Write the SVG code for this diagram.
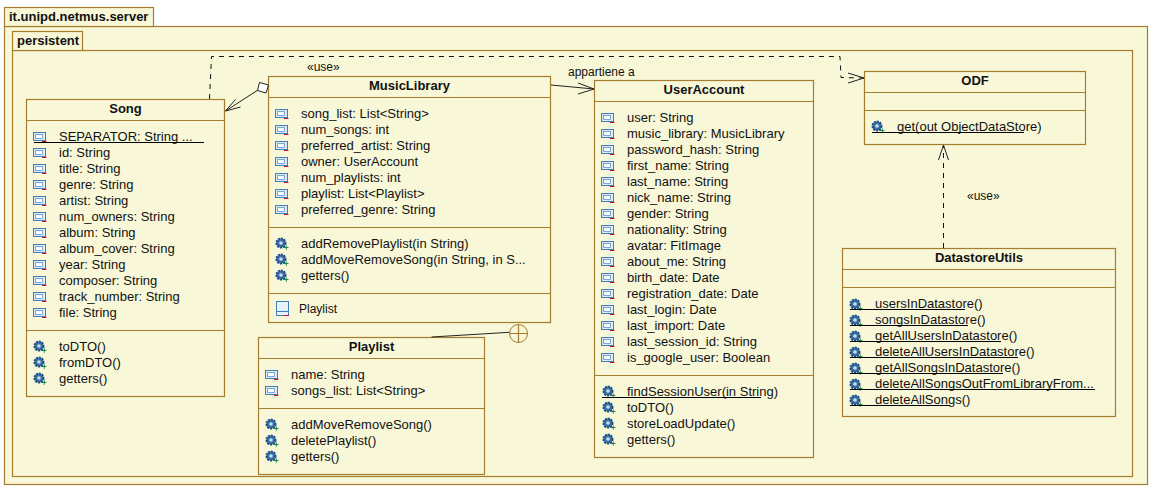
<svg xmlns="http://www.w3.org/2000/svg" width="1170" height="492" viewBox="0 0 1170 492">
<style>
.box{fill:#f8f8d8;stroke:#a67c2e;stroke-width:1.2}
.div{stroke:#a67c2e;stroke-width:1.2;fill:none}
text{font-family:"Liberation Sans",Arial,sans-serif;font-size:13px;fill:#111}
.t{font-weight:bold;text-anchor:middle}
.p{font-weight:bold}
.u{stroke:#000;stroke-width:1;fill:none}
.c{stroke:#222;stroke-width:1;fill:none}
.d{stroke:#111;stroke-width:1;fill:none;stroke-dasharray:5 5}
.s{font-size:12px}
</style>
<defs>
<g id="attr">
<rect x="0.5" y="0.5" width="12" height="8" fill="#dfeaf6" stroke="#3f7fb5" stroke-width="1"/>
<rect x="2.5" y="2.5" width="7" height="4" fill="#fff" stroke="#5d97c6" stroke-width="0.8"/>
<path d="M9 9.500H13.500" stroke="#c8102e" fill="none"/>
</g>
<g id="op">
<circle cx="6" cy="6" r="4.600" fill="#3a6ea5" stroke="#1d4a80" stroke-width="1.800" stroke-dasharray="2 1"/>
<circle cx="6" cy="6" r="1.800" fill="#c9dcf0"/>
<path d="M9 10.500H13.500M11.250 8.250V12.750" stroke="#1a8a4a" fill="none"/>
</g>
<g id="cls">
<rect x="0.5" y="0.5" width="12" height="14" fill="#e8f2fb" stroke="#3f7fb5"/>
<path d="M0.5 10.500H12.500" stroke="#3f7fb5" fill="none"/>
<path d="M8 14.500H13" stroke="#c8102e" fill="none"/>
</g>
</defs>
<rect width="1170" height="492" fill="#fff"/>
<g id="pkg-server">
<rect class="box" x="4.500" y="26.500" width="1143" height="458"/>
<rect class="box" x="4.500" y="7.500" width="149" height="19"/>
<text class="p" x="9" y="21">it.unipd.netmus.server</text>
</g>
<g id="pkg-persistent">
<rect class="box" x="12.500" y="50.500" width="1120" height="426"/>
<rect class="box" x="12.500" y="31.500" width="70" height="19"/>
<text class="p" x="17" y="45">persistent</text>
</g>
<g id="Song">
<rect class="box" x="26.500" y="99.500" width="198" height="297"/>
<path class="div" d="M26.500 120.500H224.500M26.500 330.500H224.500"/>
<text class="t" x="125.500" y="113">Song</text>
<use href="#attr" x="33" y="132"/><text x="59" y="141">SEPARATOR: String ...</text><path class="u" d="M34 142.500H204"/>
<use href="#attr" x="33" y="148"/><text x="59" y="157">id: String</text>
<use href="#attr" x="33" y="164"/><text x="59" y="173">title: String</text>
<use href="#attr" x="33" y="180"/><text x="59" y="189">genre: String</text>
<use href="#attr" x="33" y="196"/><text x="59" y="205">artist: String</text>
<use href="#attr" x="33" y="212"/><text x="59" y="221">num_owners: String</text>
<use href="#attr" x="33" y="228"/><text x="59" y="237">album: String</text>
<use href="#attr" x="33" y="244"/><text x="59" y="253">album_cover: String</text>
<use href="#attr" x="33" y="260"/><text x="59" y="269">year: String</text>
<use href="#attr" x="33" y="276"/><text x="59" y="285">composer: String</text>
<use href="#attr" x="33" y="292"/><text x="59" y="301">track_number: String</text>
<use href="#attr" x="33" y="308"/><text x="59" y="317">file: String</text>
<use href="#op" x="33" y="340"/><text x="59" y="351">toDTO()</text>
<use href="#op" x="33" y="356"/><text x="59" y="367">fromDTO()</text>
<use href="#op" x="33" y="372"/><text x="59" y="383">getters()</text>
</g>
<g id="MusicLibrary">
<rect class="box" x="268.500" y="76.500" width="282" height="246"/>
<path class="div" d="M268.500 97.500H550.500M268.500 227.500H550.500M268.500 293.500H550.500"/>
<text class="t" x="409.500" y="90">MusicLibrary</text>
<use href="#attr" x="275" y="109"/><text x="301" y="118">song_list: List&lt;String&gt;</text>
<use href="#attr" x="275" y="125"/><text x="301" y="134">num_songs: int</text>
<use href="#attr" x="275" y="141"/><text x="301" y="150">preferred_artist: String</text>
<use href="#attr" x="275" y="157"/><text x="301" y="166">owner: UserAccount</text>
<use href="#attr" x="275" y="173"/><text x="301" y="182">num_playlists: int</text>
<use href="#attr" x="275" y="189"/><text x="301" y="198">playlist: List&lt;Playlist&gt;</text>
<use href="#attr" x="275" y="205"/><text x="301" y="214">preferred_genre: String</text>
<use href="#op" x="275" y="237"/><text x="301" y="248">addRemovePlaylist(in String)</text>
<use href="#op" x="275" y="253"/><text x="301" y="264">addMoveRemoveSong(in String, in S...</text>
<use href="#op" x="275" y="269"/><text x="301" y="280">getters()</text>
<use href="#cls" x="276" y="301"/><text class="s" x="299" y="313">Playlist</text>
</g>
<g id="UserAccount">
<rect class="box" x="594.500" y="80.500" width="219" height="377"/>
<path class="div" d="M594.500 101.500H813.500M594.500 375.500H813.500"/>
<text class="t" x="704" y="94">UserAccount</text>
<use href="#attr" x="601" y="113"/><text x="627" y="122">user: String</text>
<use href="#attr" x="601" y="129"/><text x="627" y="138">music_library: MusicLibrary</text>
<use href="#attr" x="601" y="145"/><text x="627" y="154">password_hash: String</text>
<use href="#attr" x="601" y="161"/><text x="627" y="170">first_name: String</text>
<use href="#attr" x="601" y="177"/><text x="627" y="186">last_name: String</text>
<use href="#attr" x="601" y="193"/><text x="627" y="202">nick_name: String</text>
<use href="#attr" x="601" y="209"/><text x="627" y="218">gender: String</text>
<use href="#attr" x="601" y="225"/><text x="627" y="234">nationality: String</text>
<use href="#attr" x="601" y="241"/><text x="627" y="250">avatar: FitImage</text>
<use href="#attr" x="601" y="257"/><text x="627" y="266">about_me: String</text>
<use href="#attr" x="601" y="273"/><text x="627" y="282">birth_date: Date</text>
<use href="#attr" x="601" y="289"/><text x="627" y="298">registration_date: Date</text>
<use href="#attr" x="601" y="305"/><text x="627" y="314">last_login: Date</text>
<use href="#attr" x="601" y="321"/><text x="627" y="330">last_import: Date</text>
<use href="#attr" x="601" y="337"/><text x="627" y="346">last_session_id: String</text>
<use href="#attr" x="601" y="353"/><text x="627" y="362">is_google_user: Boolean</text>
<use href="#op" x="602" y="385"/><text x="627" y="396">findSessionUser(in String)</text><path class="u" d="M602 397.500H761"/>
<use href="#op" x="602" y="401"/><text x="627" y="412">toDTO()</text>
<use href="#op" x="602" y="417"/><text x="627" y="428">storeLoadUpdate()</text>
<use href="#op" x="602" y="433"/><text x="627" y="444">getters()</text>
</g>
<g id="ODF">
<rect class="box" x="864.500" y="71.500" width="221" height="73"/>
<path class="div" d="M864.500 92.500H1085.500M864.500 110.500H1085.500"/>
<text class="t" x="975" y="85">ODF</text>
<use href="#op" x="871" y="120"/><text x="897" y="131">get(out ObjectDataStore)</text><path class="u" d="M872 132.500H1024"/>
</g>
<g id="DatastoreUtils">
<rect class="box" x="842.500" y="248.500" width="273" height="168"/>
<path class="div" d="M842.500 269.500H1115.500M842.500 287.500H1115.500"/>
<text class="t" x="979" y="262">DatastoreUtils</text>
<use href="#op" x="849" y="298"/><text x="875" y="308">usersInDatastore()</text><path class="u" d="M850 309.500H965"/>
<use href="#op" x="849" y="314"/><text x="875" y="324">songsInDatastore()</text><path class="u" d="M850 325.500H968"/>
<use href="#op" x="849" y="330"/><text x="875" y="340">getAllUsersInDatastore()</text><path class="u" d="M850 341.500H1001"/>
<use href="#op" x="849" y="346"/><text x="875" y="356">deleteAllUsersInDatastore()</text><path class="u" d="M850 357.500H1018"/>
<use href="#op" x="849" y="362"/><text x="875" y="372">getAllSongsInDatastore()</text><path class="u" d="M850 373.500H1003"/>
<use href="#op" x="849" y="378"/><text x="875" y="388">deleteAllSongsOutFromLibraryFrom...</text><path class="u" d="M850 389.500H1095"/>
<use href="#op" x="849" y="394"/><text x="875" y="404">deleteAllSongs()</text><path class="u" d="M850 405.500H950"/>
</g>
<g id="Playlist">
<rect class="box" x="258.500" y="337.500" width="226" height="137"/>
<path class="div" d="M258.500 358.500H484.500M258.500 408.500H484.500"/>
<text class="t" x="371.500" y="351">Playlist</text>
<use href="#attr" x="265" y="370"/><text x="291" y="379">name: String</text>
<use href="#attr" x="265" y="386"/><text x="291" y="395">songs_list: List&lt;String&gt;</text>
<use href="#op" x="265" y="418"/><text x="291" y="429">addMoveRemoveSong()</text>
<use href="#op" x="265" y="434"/><text x="291" y="445">deletePlaylist()</text>
<use href="#op" x="265" y="450"/><text x="291" y="461">getters()</text>
</g>
<g id="connectors">
<path class="d" d="M209.500 99L211.500 56.500H840L841 77.500L864 78"/>
<path class="c" d="M864 78L848 73M864 78L848 83"/>
<text class="s" x="307" y="71">«use»</text>
<path class="c" d="M258 90L225.500 111M225.500 111L240.500 107M225.500 111L235.500 99.500"/>
<path d="M259.500 82.500L268.500 85L266 93L257.500 90.500Z" fill="#fff" stroke="#222"/>
<path class="c" d="M551 85L594 89M594 89L578 83M594 89L578 94"/>
<text class="s" x="568" y="76">appartiene a</text>
<path class="c" d="M431.500 337L509.500 332.300"/>
<circle cx="518.500" cy="333.500" r="9" fill="#f8f8d8" stroke="#a67c2e"/>
<path class="div" d="M518.500 324.500V342.500M509.500 333.500H527.500"/>
<path class="d" d="M943.500 248V146"/>
<path class="c" d="M943.500 145L938.500 160M943.500 145L948.500 160"/>
<text class="s" x="967" y="200">«use»</text>
</g>
</svg>
